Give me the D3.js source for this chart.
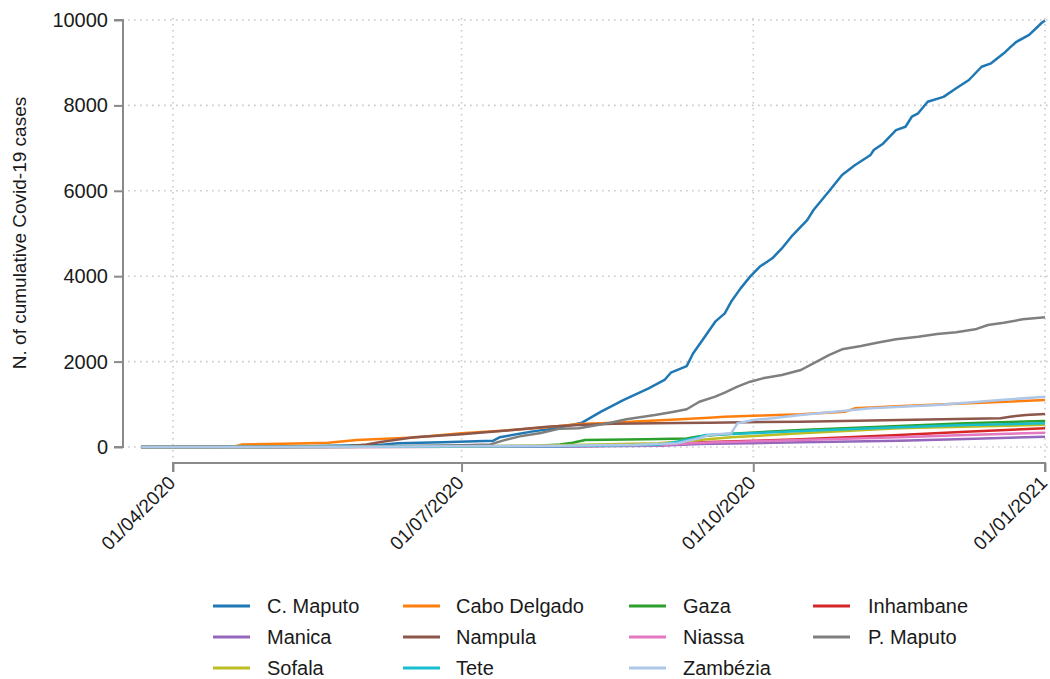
<!DOCTYPE html>
<html>
<head>
<meta charset="utf-8">
<script src="https://cdn.jsdelivr.net/npm/d3@7"></script>
<style>
  html, body { margin: 0; padding: 0; background: #fff; }
  svg { display: block; font-family: "Liberation Sans", Arial, sans-serif; }
</style>
</head>
<body>
<svg id="chart" width="1050" height="679"></svg>
<script>
// ---------------- data ----------------
const provinces = ["C. Maputo", "Cabo Delgado", "Gaza", "Inhambane", "Manica", "Nampula",
                   "Niassa", "P. Maputo", "Sofala", "Tete", "Zambézia"];
const colors = ["#1f77b4", "#ff7f0e", "#2ca02c", "#d62728", "#9467bd", "#8c564b",
                "#e377c2", "#7f7f7f", "#bcbd22", "#17becf", "#aec7e8"];

const cMaputo = [["2020-03-22",1],["2020-04-15",10],["2020-05-15",25],["2020-06-05",45],["2020-06-11",87],
  ["2020-06-25",110],["2020-07-11",148],["2020-07-13",227],["2020-07-23",360],["2020-07-29",420],
  ["2020-08-05",520],["2020-08-08",570],["2020-08-14",827],["2020-08-21",1100],["2020-08-29",1375],
  ["2020-09-03",1570],["2020-09-05",1740],["2020-09-10",1895],["2020-09-12",2190],["2020-09-15",2505],
  ["2020-09-19",2935],["2020-09-22",3130],["2020-09-24",3400],["2020-09-27",3715],["2020-09-30",3990],
  ["2020-10-03",4220],["2020-10-07",4420],["2020-10-10",4650],["2020-10-13",4925],["2020-10-18",5315],
  ["2020-10-20",5550],["2020-10-25",6000],["2020-10-29",6370],["2020-11-02",6600],["2020-11-07",6840],
  ["2020-11-08",6955],["2020-11-11",7110],["2020-11-15",7420],["2020-11-18",7500],["2020-11-20",7735],
  ["2020-11-22",7815],["2020-11-25",8085],["2020-11-30",8200],["2020-12-04",8400],["2020-12-08",8595],
  ["2020-12-12",8905],["2020-12-15",8985],["2020-12-19",9220],["2020-12-21",9360],["2020-12-23",9490],
  ["2020-12-27",9650],["2020-12-31",9935],["2021-01-01",9990]];
const caboDelgado = [["2020-03-22",0],["2020-04-20",5],["2020-04-23",60],["2020-05-10",80],["2020-05-20",100],
  ["2020-05-29",164],["2020-06-16",220],["2020-07-01",320],["2020-07-17",398],["2020-07-28",461],
  ["2020-08-07",539],["2020-08-18",570],["2020-08-28",609],["2020-09-08",648],["2020-09-17",686],
  ["2020-09-22",710],["2020-10-01",733],["2020-10-16",765],["2020-10-30",827],["2020-11-02",905],
  ["2020-11-17",960],["2020-12-08",1023],["2021-01-01",1100]];
const gaza = [["2020-03-22",0],["2020-06-01",5],["2020-07-01",10],["2020-07-25",30],["2020-08-01",60],
  ["2020-08-05",100],["2020-08-09",164],["2020-08-28",180],["2020-09-10",200],["2020-09-14",250],
  ["2020-09-24",310],["2020-10-16",398],["2020-11-16",490],["2020-12-07",555],["2021-01-01",609]];
const inhambane = [["2020-03-22",0],["2020-07-01",5],["2020-08-01",15],["2020-09-01",40],["2020-09-14",110],
  ["2020-10-16",180],["2020-11-16",281],["2020-12-07",360],["2021-01-01",437]];
const manica = [["2020-03-22",0],["2020-07-01",3],["2020-08-01",10],["2020-09-01",30],["2020-09-14",70],
  ["2020-10-16",110],["2020-11-16",148],["2020-12-07",187],["2021-01-01",241]];
const nampula = [["2020-03-22",0],["2020-05-01",2],["2020-05-25",10],["2020-06-01",60],["2020-06-06",125],
  ["2020-06-16",227],["2020-07-01",297],["2020-07-17",398],["2020-07-28",475],["2020-08-07",515],
  ["2020-08-18",545],["2020-09-07",560],["2020-09-17",570],["2020-10-16",593],["2020-11-16",632],
  ["2020-12-18",672],["2020-12-21",710],["2020-12-26",750],["2021-01-01",773]];
const niassa = [["2020-03-22",0],["2020-07-01",5],["2020-08-01",15],["2020-09-01",40],["2020-09-14",100],
  ["2020-10-16",164],["2020-11-16",227],["2020-12-07",281],["2021-01-01",335]];
const pMaputo = [["2020-03-22",0],["2020-05-01",5],["2020-06-01",15],["2020-07-01",40],["2020-07-10",60],
  ["2020-07-14",150],["2020-07-20",260],["2020-07-26",330],["2020-08-01",430],["2020-08-07",440],
  ["2020-08-17",570],["2020-08-22",650],["2020-08-31",750],["2020-09-06",827],["2020-09-10",883],
  ["2020-09-14",1060],["2020-09-19",1180],["2020-09-22",1272],["2020-09-26",1412],["2020-09-30",1530],
  ["2020-10-04",1608],["2020-10-10",1686],["2020-10-16",1803],["2020-10-21",2000],["2020-10-25",2155],
  ["2020-10-29",2288],["2020-11-04",2365],["2020-11-09",2443],["2020-11-15",2522],["2020-11-22",2583],
  ["2020-11-28",2646],["2020-12-04",2686],["2020-12-10",2756],["2020-12-14",2857],["2020-12-19",2911],
  ["2020-12-25",2990],["2021-01-01",3040]];
const sofala = [["2020-03-22",0],["2020-06-01",3],["2020-07-01",10],["2020-08-01",40],["2020-08-20",70],
  ["2020-09-01",90],["2020-09-14",164],["2020-09-24",227],["2020-10-16",320],["2020-11-16",437],
  ["2021-01-01",520]];
const tete = [["2020-03-22",0],["2020-06-01",5],["2020-08-01",20],["2020-09-01",50],["2020-09-07",125],
  ["2020-09-12",200],["2020-09-16",281],["2020-09-30",320],["2020-10-16",375],["2020-11-16",461],
  ["2020-12-07",515],["2021-01-01",555]];
const zambezia = [["2020-03-22",0],["2020-06-01",5],["2020-07-01",15],["2020-08-01",30],["2020-08-25",50],
  ["2020-09-07",90],["2020-09-14",204],["2020-09-17",280],["2020-09-24",320],["2020-09-26",555],
  ["2020-10-01",632],["2020-10-07",672],["2020-10-16",750],["2020-11-07",905],["2020-11-28",983],
  ["2020-12-18",1100],["2021-01-01",1178]];

const seriesValues = [cMaputo, caboDelgado, gaza, inhambane, manica, nampula,
                      niassa, pMaputo, sofala, tete, zambezia];

const xTickDates = ["2020-04-01", "2020-07-01", "2020-10-01", "2021-01-01"];
const xTickLabels = ["01/04/2020", "01/07/2020", "01/10/2020", "01/01/2021"];
const yTicks = [0, 2000, 4000, 6000, 8000, 10000];
const yTitle = "N. of cumulative Covid-19 cases";

// ---------------- drawing ----------------
const parse = d3.utcParse("%Y-%m-%d");
const svg = d3.select("#chart");

const x = d3.scaleUtc()
  .domain([parse(xTickDates[0]), parse(xTickDates[xTickDates.length - 1])])
  .range([173, 1045]);
const y = d3.scaleLinear().domain([0, 10000]).range([447, 20]);

const gridColor = "#c9c9c9";
const axisColor = "#8a8a8a";
const textColor = "#1a1a1a";

// grid
const grid = svg.append("g");
grid.selectAll("line.h").data(yTicks).join("line")
  .attr("x1", 128).attr("x2", 1048)
  .attr("y1", d => y(d)).attr("y2", d => y(d))
  .attr("stroke", gridColor).attr("stroke-width", 1.6)
  .attr("stroke-dasharray", "1.6,4.4");
grid.selectAll("line.v").data(xTickDates).join("line")
  .attr("x1", d => x(parse(d))).attr("x2", d => x(parse(d)))
  .attr("y1", 18).attr("y2", 460)
  .attr("stroke", gridColor).attr("stroke-width", 1.6)
  .attr("stroke-dasharray", "1.6,4.4");

// lines
const line = d3.line()
  .x(d => x(parse(d[0])))
  .y(d => y(d[1]));
svg.append("g").selectAll("path").data(seriesValues).join("path")
  .attr("d", d => line(d))
  .attr("fill", "none")
  .attr("stroke", (d, i) => colors[i])
  .attr("stroke-width", 2.5)
  .attr("stroke-linejoin", "round");

// y axis
const yAxis = svg.append("g").attr("transform", "translate(123,0)")
  .call(d3.axisLeft(y).tickValues(yTicks).tickSize(9).tickPadding(6).tickFormat(d3.format("d")));
yAxis.select(".domain").attr("d", `M-9,${y(10000)}H0V${y(0)}H-9`)
  .attr("stroke", axisColor).attr("stroke-width", 2);
yAxis.selectAll(".tick line").attr("stroke", axisColor).attr("stroke-width", 2);
yAxis.selectAll(".tick text").attr("fill", textColor)
  .style("font-size", "20px").style("font-family", "'Liberation Sans', Arial, sans-serif");

// x axis
const xAxis = svg.append("g").attr("transform", "translate(0,463)")
  .call(d3.axisBottom(x).tickValues(xTickDates.map(parse)).tickSize(9)
    .tickFormat((d, i) => xTickLabels[i]));
xAxis.select(".domain").attr("d", `M${x.range()[0]},9V0H${x.range()[1]}V9`)
  .attr("stroke", axisColor).attr("stroke-width", 2);
xAxis.selectAll(".tick line").attr("stroke", axisColor).attr("stroke-width", 2);
xAxis.selectAll(".tick text")
  .attr("fill", textColor)
  .style("font-size", "19px").style("font-family", "'Liberation Sans', Arial, sans-serif")
  .attr("text-anchor", "end")
  .attr("x", 0).attr("y", 0).attr("dy", "0")
  .attr("transform", "translate(3,21) rotate(-45)");

// y title
svg.append("text")
  .attr("transform", "translate(26,233) rotate(-90)")
  .attr("text-anchor", "middle")
  .attr("fill", textColor)
  .style("font-size", "19px")
  .text(yTitle);

// legend
const legLineX = [213, 403, 629, 813];
const legTextX = [267, 456, 683, 868];
const legRows = [606, 637, 668];
const leg = svg.append("g");
provinces.forEach((p, i) => {
  const c = i % 4, cy = legRows[Math.floor(i / 4)];
  leg.append("line").attr("x1", legLineX[c]).attr("x2", legLineX[c] + 37)
    .attr("y1", cy).attr("y2", cy)
    .attr("stroke", colors[i]).attr("stroke-width", 3);
  leg.append("text").attr("x", legTextX[c]).attr("y", cy).attr("dy", "0.36em")
    .attr("fill", textColor).style("font-size", "20px").text(p);
});
</script>
</body>
</html>
